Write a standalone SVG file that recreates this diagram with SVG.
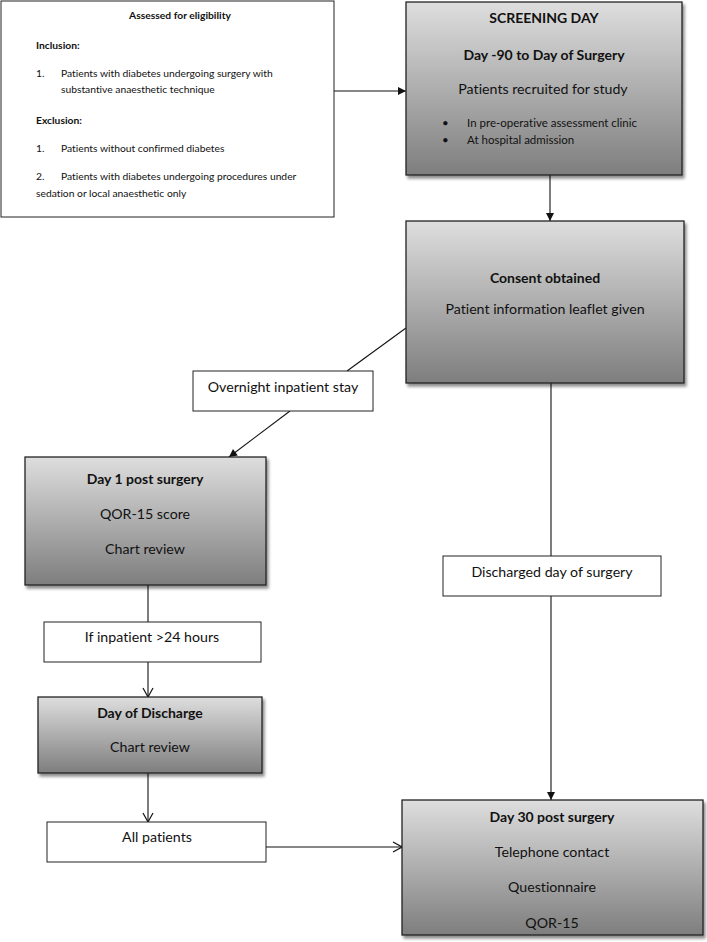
<svg xmlns="http://www.w3.org/2000/svg" width="707" height="942" viewBox="0 0 707 942">
<style>
text{font-family:Lato,"Open Sans","Liberation Sans",sans-serif;fill:#111;font-variant-ligatures:none;font-feature-settings:"liga" 0,"clig" 0}
.s{font-size:10.3px}
.sb{font-size:10.3px;font-weight:bold}
.m{font-size:14.2px;text-anchor:middle}
.mb{font-size:14px;font-weight:bold;text-anchor:middle}
.bl{font-size:11.5px}
.plain{fill:#fff;stroke:#222;stroke-width:1}
.grad{fill:url(#g);stroke:#222;stroke-width:1.3;filter:url(#sh)}
.c{stroke:#111;stroke-width:1.1;fill:none}
</style>
<defs>
<linearGradient id="g" x1="0" y1="0" x2="0" y2="1">
<stop offset="0" stop-color="#dedede"/>
<stop offset="1" stop-color="#7e7e7e"/>
</linearGradient>
<filter id="sh" x="-5%" y="-5%" width="115%" height="120%">
<feDropShadow dx="2" dy="3" stdDeviation="1.5" flood-color="#000" flood-opacity="0.45"/>
</filter>
<marker id="fa" markerWidth="10" markerHeight="10" refX="9" refY="5" orient="auto" markerUnits="userSpaceOnUse">
<path d="M1,1 L9,5 L1,9 z" fill="#111"/>
</marker>
<marker id="oa" markerWidth="12" markerHeight="12" refX="11" refY="6" orient="auto" markerUnits="userSpaceOnUse">
<path d="M2,1 L11,6 L2,11" fill="none" stroke="#111" stroke-width="1.2"/>
</marker>
</defs>
<rect width="707" height="942" fill="#fff"/>

<g id="connectors">
<line class="c" x1="334" y1="91" x2="406" y2="91" marker-end="url(#fa)"/>
<line class="c" x1="550" y1="175" x2="550" y2="221" marker-end="url(#fa)"/>
<line class="c" x1="406" y1="328" x2="347" y2="371"/>
<line class="c" x1="290" y1="411" x2="229" y2="457" marker-end="url(#fa)"/>
<line class="c" x1="148" y1="585" x2="148" y2="622"/>
<line class="c" x1="148" y1="662" x2="148" y2="697" marker-end="url(#oa)"/>
<line class="c" x1="148" y1="773" x2="148" y2="822" marker-end="url(#oa)"/>
<line class="c" x1="266" y1="847" x2="402" y2="847" marker-end="url(#oa)"/>
<line class="c" x1="551" y1="383" x2="551" y2="556"/>
<line class="c" x1="551" y1="596" x2="551" y2="800" marker-end="url(#fa)"/>
</g>

<g id="eligibility">
<rect class="plain" x="1" y="1" width="333" height="216"/>
<text class="sb" x="180" y="18.5" text-anchor="middle">Assessed for eligibility</text>
<text class="sb" x="36" y="48.5">Inclusion:</text>
<text class="s" x="36" y="76.5">1.</text>
<text class="s" x="61" y="76.5">Patients with diabetes undergoing surgery with</text>
<text class="s" x="61" y="92.5">substantive anaesthetic  technique</text>
<text class="sb" x="36" y="123.5">Exclusion:</text>
<text class="s" x="36" y="151.5">1.</text>
<text class="s" x="61" y="151.5">Patients without confirmed diabetes</text>
<text class="s" x="36" y="179.5">2.</text>
<text class="s" x="61" y="179.5">Patients with diabetes undergoing procedures under</text>
<text class="s" x="36" y="196.5">sedation or local anaesthetic only</text>
</g>

<g id="screening">
<rect class="grad" x="406" y="2" width="276" height="173"/>
<text class="mb" x="544" y="23">SCREENING DAY</text>
<text class="mb" x="544" y="60">Day -90 to Day of Surgery</text>
<text class="m" x="543" y="94">Patients recruited for study</text>
<text class="bl" x="442" y="127">•</text>
<text class="bl" x="467" y="127">In pre-operative assessment clinic</text>
<text class="bl" x="442" y="144">•</text>
<text class="bl" x="467" y="144">At hospital admission</text>
</g>

<g id="consent">
<rect class="grad" x="406" y="221" width="278" height="162"/>
<text class="mb" x="545" y="283">Consent obtained</text>
<text class="m" x="545" y="314">Patient information leaflet given</text>
</g>

<g id="overnight">
<rect class="plain" x="193" y="371" width="180" height="40"/>
<text class="m" x="283" y="392">Overnight inpatient stay</text>
</g>

<g id="day1">
<rect class="grad" x="25" y="457" width="241" height="128"/>
<text class="mb" x="145" y="484">Day 1 post surgery</text>
<text class="m" x="145" y="519">QOR-15 score</text>
<text class="m" x="145" y="554">Chart review</text>
</g>

<g id="inpatient24">
<rect class="plain" x="44" y="622" width="217" height="40"/>
<text class="m" x="152" y="642">If inpatient &gt;24 hours</text>
</g>

<g id="discharge">
<rect class="grad" x="38" y="697" width="224" height="76"/>
<text class="mb" x="150" y="718">Day of Discharge</text>
<text class="m" x="150" y="752">Chart review</text>
</g>

<g id="allpatients">
<rect class="plain" x="47" y="822" width="219" height="40"/>
<text class="m" x="157" y="842">All patients</text>
</g>

<g id="dischargedsameday">
<rect class="plain" x="443" y="556" width="218" height="40"/>
<text class="m" x="552" y="577">Discharged day of surgery</text>
</g>

<g id="day30">
<rect class="grad" x="402" y="800" width="301" height="135"/>
<text class="mb" x="552" y="822">Day 30 post surgery</text>
<text class="m" x="552" y="857">Telephone contact</text>
<text class="m" x="552" y="892">Questionnaire</text>
<text class="m" x="552" y="928">QOR-15</text>
</g>
</svg>
